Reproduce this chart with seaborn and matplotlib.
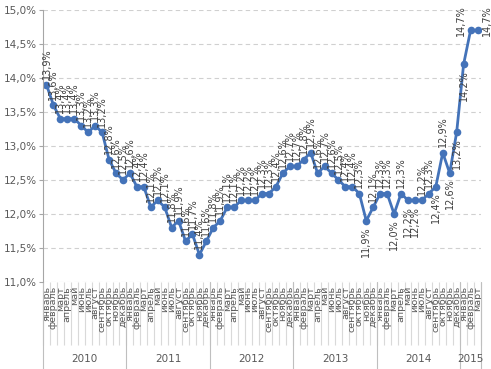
import numpy as np
import pandas as pd
import matplotlib
matplotlib.use("Agg")
import matplotlib.pyplot as plt
import matplotlib.transforms as mtransforms
from matplotlib.ticker import FuncFormatter, FixedLocator
import seaborn as sns

# month names (x axis, inner level)
months = ["январь", "февраль", "март", "апрель", "май", "июнь",
          "июль", "август", "сентябрь", "октябрь", "ноябрь", "декабрь"]

# year labels (x axis, outer level) and how many months each one holds
years = ["2010", "2011", "2012", "2013", "2014", "2015"]
months_in_year = [12, 12, 12, 12, 12, 3]

# monthly values, %
rate_2010 = [13.9, 13.6, 13.4, 13.4, 13.4, 13.3, 13.2, 13.3, 13.2, 12.8, 12.6, 12.5]
rate_2011 = [12.6, 12.4, 12.4, 12.1, 12.2, 12.1, 11.8, 11.9, 11.6, 11.7, 11.4, 11.6]
rate_2012 = [11.8, 11.9, 12.1, 12.1, 12.2, 12.2, 12.2, 12.3, 12.3, 12.4, 12.6, 12.7]
rate_2013 = [12.7, 12.8, 12.9, 12.6, 12.7, 12.6, 12.5, 12.4, 12.4, 12.3, 11.9, 12.1]
rate_2014 = [12.3, 12.3, 12.0, 12.3, 12.2, 12.2, 12.2, 12.3, 12.4, 12.9, 12.6, 13.2]
rate_2015 = [14.2, 14.7, 14.7]

# data labels that sit under the point instead of above it
labels_below = [("2013", "ноябрь"), ("2014", "март"), ("2014", "май"),
                ("2014", "июнь"), ("2014", "сентябрь"), ("2014", "ноябрь"),
                ("2014", "декабрь"), ("2015", "январь")]
# last two labels sit beside the point (left / right)
labels_left = [("2015", "февраль")]
labels_right = [("2015", "март")]

rates = rate_2010 + rate_2011 + rate_2012 + rate_2013 + rate_2014 + rate_2015
year_col = []
month_col = []
for y, n in zip(years, months_in_year):
    year_col += [y] * n
    month_col += months[:n]

df = pd.DataFrame({"year": year_col, "month": month_col, "rate": rates})
df["pos"] = np.arange(len(df))

grey = "#595959"
line_col = "#4473b9"

sns.set_style("white")
plt.rcParams["font.family"] = ["DejaVu Sans"]

fig = plt.figure(figsize=(4.91, 3.69), dpi=100)
ax = fig.add_axes([0.0876, 0.236, 0.892, 0.737])

ax.yaxis.grid(True, color="#d0d0d0", linestyle=(0, (4, 3)), linewidth=0.8)
ax.set_axisbelow(True)

sns.lineplot(data=df, x="pos", y="rate", ax=ax, color=line_col,
             linewidth=2, marker="o", markersize=5.5, markeredgewidth=0)

# data labels
for _, r in df.iterrows():
    txt = f"{r['rate']:.1f}%".replace(".", ",")
    key = (r["year"], r["month"])
    if key in labels_below:
        off, ha, va = (0, -4), "center", "top"
    elif key in labels_left:
        off, ha, va = (-3, -4), "right", "bottom"
    elif key in labels_right:
        off, ha, va = (3, -4), "left", "bottom"
    else:
        off, ha, va = (0, 4), "center", "bottom"
    ax.annotate(txt, (r["pos"], r["rate"]), xytext=off,
                textcoords="offset points", rotation=90, ha=ha, va=va,
                fontsize=7, color="#404040", annotation_clip=False)

ax.set_xlim(-0.5, len(df) - 0.5)
ax.set_ylim(11, 15)
ax.set_yticks(np.arange(11, 15.01, 0.5))
ax.yaxis.set_major_formatter(FuncFormatter(lambda v, p: f"{v:.1f}%".replace(".", ",")))
ax.tick_params(axis="y", labelsize=7.5, colors=grey, length=3, width=0.8,
               color="#a6a6a6", left=True, pad=1.5)

# x axis: month boundaries as long ticks, month names as minor tick labels
ax.xaxis.set_major_locator(FixedLocator(np.arange(-0.5, len(df), 1)))
ax.xaxis.set_major_formatter(FuncFormatter(lambda v, p: ""))
ax.xaxis.set_minor_locator(FixedLocator(df["pos"].values))
ax.set_xticklabels(df["month"].tolist(), minor=True)
ax.tick_params(axis="x", which="major", length=45, width=0.8, color="#d9d9d9",
               bottom=True)
ax.tick_params(axis="x", which="minor", length=0, pad=3, labelsize=6.8,
               labelcolor=grey, labelrotation=90)
ax.set_xlabel("")
ax.set_ylabel("")

# year separators and year labels
trans = mtransforms.blended_transform_factory(ax.transData, ax.transAxes)
edges = np.concatenate([[0], np.cumsum(months_in_year)]) - 0.5
for e in edges:
    ax.plot([e, e], [0, -0.33], transform=trans, color="#bfbfbf",
            linewidth=0.8, clip_on=False)
for y, a, b in zip(years, edges[:-1], edges[1:]):
    ax.text((a + b) / 2, -0.285, y, transform=trans, ha="center", va="center",
            fontsize=7.5, color=grey)

for s in ["top", "right", "bottom"]:
    ax.spines[s].set_visible(False)
ax.spines["left"].set_color("#a6a6a6")
ax.spines["left"].set_linewidth(0.8)

fig.savefig("out.png", dpi=100)
